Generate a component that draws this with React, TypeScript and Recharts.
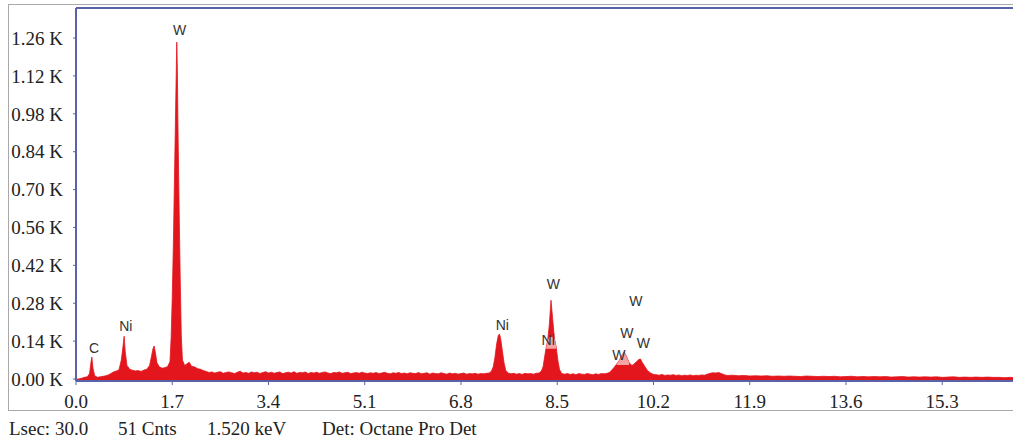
import { ComposedChart, Area, Scatter, XAxis, YAxis, ReferenceLine } from 'recharts';

// channel energies (keV) and counts (K)
const energyKeV = [
  0.0, 0.05, 0.1, 0.15, 0.2, 0.24, 0.26, 0.28, 0.3, 0.33, 0.38, 0.43, 0.48, 0.53, 0.58, 0.63, 0.68, 0.72, 0.76, 0.8, 0.83, 0.85, 0.87, 0.9, 0.95, 1.0,
  1.05, 1.1, 1.15, 1.2, 1.25, 1.3, 1.33, 1.36, 1.38, 1.4, 1.43, 1.47, 1.52, 1.57, 1.62, 1.66, 1.68, 1.7, 1.72, 1.74, 1.76, 1.78, 1.79, 1.8, 1.82, 1.84, 1.86, 1.88, 1.92, 1.96, 2.0, 2.04, 2.1, 2.15, 2.2, 2.25,
  2.3, 2.35, 2.4, 2.45, 2.5, 2.55, 2.6, 2.65, 2.7, 2.75, 2.8, 2.85, 2.9, 2.95, 3.0, 3.05, 3.1, 3.15, 3.2, 3.25,
  3.3, 3.35, 3.4, 3.45, 3.5, 3.55, 3.6, 3.65, 3.7, 3.75, 3.8, 3.85, 3.9, 3.95, 4.0, 4.05, 4.1, 4.15, 4.2, 4.25,
  4.3, 4.35, 4.4, 4.45, 4.5, 4.55, 4.6, 4.65, 4.7, 4.75, 4.8, 4.85, 4.9, 4.95, 5.0, 5.05, 5.1, 5.15, 5.2, 5.25,
  5.3, 5.35, 5.4, 5.45, 5.5, 5.55, 5.6, 5.65, 5.7, 5.75, 5.8, 5.85, 5.9, 5.95, 6.0, 6.05, 6.1, 6.15, 6.2, 6.25,
  6.3, 6.35, 6.4, 6.45, 6.5, 6.55, 6.6, 6.65, 6.7, 6.75, 6.8, 6.85, 6.9, 6.95, 7.0, 7.05, 7.1, 7.15, 7.2, 7.25,
  7.3, 7.34, 7.37, 7.4, 7.43, 7.46, 7.48, 7.5, 7.53, 7.56, 7.59, 7.63, 7.68,
  7.73, 7.78, 7.83, 7.88, 7.93, 7.98, 8.03, 8.08, 8.13, 8.18,
  8.22, 8.25, 8.28, 8.3, 8.33, 8.36, 8.39, 8.42, 8.45, 8.48, 8.51, 8.54, 8.58,
  8.63, 8.68, 8.73, 8.78, 8.83, 8.88, 8.93, 8.98, 9.03, 9.08, 9.13, 9.18, 9.23, 9.28, 9.33, 9.38,
  9.42, 9.46, 9.5, 9.55, 9.6, 9.65, 9.68, 9.72, 9.77, 9.82, 9.86, 9.9, 9.94, 9.97, 10.0, 10.05, 10.1, 10.15, 10.2,
  10.25, 10.3, 10.35, 10.4, 10.45, 10.5, 10.55, 10.6, 10.65, 10.7, 10.75, 10.8, 10.85, 10.9, 10.95, 11.0, 11.05, 11.1,
  11.15, 11.2, 11.25, 11.3, 11.35, 11.4, 11.45,
  11.5, 11.6, 11.7, 11.8, 11.9, 12.0, 12.1, 12.2, 12.3, 12.4, 12.5, 12.6, 12.7, 12.8, 12.9, 13.0, 13.1, 13.2, 13.3, 13.4,
  13.5, 13.6, 13.7, 13.8, 13.9, 14.0, 14.1, 14.2, 14.3, 14.4, 14.5, 14.6, 14.7, 14.8, 14.9, 15.0, 15.1, 15.2, 15.3, 15.4,
  15.5, 15.6, 15.7, 15.8, 15.9, 16.0, 16.1, 16.2, 16.3, 16.4, 16.5, 16.6,
];

const countsK = [
  0, 0, 0.003, 0.006, 0.008, 0.02, 0.055, 0.081, 0.04, 0.012, 0.006, 0.008, 0.01, 0.012, 0.016, 0.022, 0.028, 0.03, 0.034, 0.07, 0.12, 0.158, 0.1, 0.05, 0.036, 0.032,
  0.03, 0.031, 0.028, 0.033, 0.036, 0.05, 0.08, 0.112, 0.122, 0.1, 0.06, 0.045, 0.04, 0.042, 0.046, 0.065, 0.15, 0.3, 0.5, 0.75, 1.0, 1.245, 1.15, 0.95, 0.65, 0.38, 0.16, 0.07, 0.05, 0.056, 0.062, 0.047, 0.044, 0.038, 0.036, 0.031,
  0.028, 0.024, 0.026, 0.022, 0.025, 0.027, 0.021, 0.024, 0.026, 0.023, 0.02, 0.025, 0.029, 0.022, 0.024, 0.021, 0.026, 0.023, 0.025, 0.02,
  0.024, 0.027, 0.022, 0.025, 0.021, 0.024, 0.026, 0.02, 0.023, 0.025, 0.022, 0.027, 0.021, 0.024, 0.023, 0.026, 0.02, 0.024, 0.022, 0.025,
  0.021, 0.024, 0.026, 0.022, 0.02, 0.024, 0.023, 0.026, 0.021, 0.023, 0.025, 0.02, 0.022, 0.024, 0.021, 0.025, 0.022, 0.02, 0.023, 0.021,
  0.024, 0.02, 0.022, 0.025, 0.021, 0.019, 0.023, 0.021, 0.024, 0.02, 0.022, 0.019, 0.023, 0.021, 0.02, 0.024, 0.019, 0.021, 0.023, 0.018,
  0.022, 0.02, 0.019, 0.023, 0.02, 0.018, 0.022, 0.019, 0.021, 0.018, 0.02, 0.022, 0.018, 0.02, 0.019, 0.021, 0.018, 0.02, 0.019, 0.021,
  0.022, 0.03, 0.045, 0.08, 0.13, 0.162, 0.166, 0.15, 0.105, 0.06, 0.032, 0.022, 0.019,
  0.021, 0.018, 0.02, 0.017, 0.021, 0.019, 0.02, 0.018, 0.021, 0.022,
  0.03, 0.045, 0.085, 0.112, 0.14, 0.2, 0.291, 0.22, 0.15, 0.12, 0.07, 0.035, 0.02,
  0.018, 0.02, 0.017, 0.019, 0.016, 0.02, 0.018, 0.017, 0.02, 0.018, 0.016, 0.019, 0.017, 0.02, 0.019, 0.021,
  0.024, 0.032, 0.042, 0.055, 0.07, 0.09, 0.1, 0.085, 0.06, 0.05, 0.056, 0.064, 0.072, 0.074, 0.062, 0.045, 0.03, 0.022, 0.017,
  0.016, 0.014, 0.017, 0.013, 0.015, 0.014, 0.016, 0.013, 0.015, 0.012, 0.014, 0.013, 0.015, 0.012, 0.014, 0.013, 0.015, 0.014,
  0.018, 0.021, 0.023, 0.022, 0.024, 0.02, 0.016,
  0.013, 0.014, 0.012, 0.013, 0.011, 0.012, 0.011, 0.012, 0.01, 0.011, 0.01, 0.011, 0.01, 0.009, 0.011, 0.01, 0.009, 0.01, 0.009, 0.01,
  0.008, 0.009, 0.01, 0.008, 0.009, 0.008, 0.009, 0.008, 0.009, 0.007, 0.008, 0.009, 0.007, 0.008, 0.007, 0.008, 0.007, 0.008, 0.006, 0.007,
  0.008, 0.006, 0.007, 0.006, 0.007, 0.006, 0.007, 0.006, 0.006, 0.005, 0.006, 0.005,
];

// highlighted (lighter) regions of interest inside peaks
const roiEnergy = [8.3, 8.33, 8.36, 8.39, 8.42, 8.45, 8.48, 9.55, 9.6, 9.65, 9.68, 9.72, 9.77];
const roiLow = [0.112, 0.112, 0.112, 0.112, 0.112, 0.112, 0.112, 0.052, 0.052, 0.052, 0.052, 0.052, 0.052];
const roiHigh = [0.112, 0.14, 0.155, 0.155, 0.155, 0.15, 0.12, 0.055, 0.07, 0.09, 0.1, 0.085, 0.06];

// element markers
const markerText = ['W', 'C', 'Ni', 'Ni', 'W', 'Ni', 'W', 'W', 'W', 'W'];
const markerEnergy = [1.83, 0.32, 0.88, 7.53, 8.43, 8.34, 9.89, 9.73, 10.02, 9.59];
const markerK = [1.29, 0.115, 0.196, 0.2, 0.35, 0.144, 0.288, 0.17, 0.134, 0.089];

const xTicks = [0, 1.7, 3.4, 5.1, 6.8, 8.5, 10.2, 11.9, 13.6, 15.3];
const yTicks = [0, 0.14, 0.28, 0.42, 0.56, 0.7, 0.84, 0.98, 1.12, 1.26];

const footer = [
  { text: 'Lsec: 30.0', left: 9 },
  { text: '51 Cnts', left: 118 },
  { text: '1.520 keV', left: 207 },
  { text: 'Det: Octane Pro Det', left: 322 },
];

const data = energyKeV.map((e, i) => {
  const r = roiEnergy.indexOf(e);
  return { e, c: countsK[i], roi: r >= 0 ? [roiLow[r], roiHigh[r]] : null };
});
const markers = markerText.map((t, i) => ({ e: markerEnergy[i], k: markerK[i], text: t }));

const BLUE = '#5a62a8';
const serif = '"Liberation Serif", "Times New Roman", serif';

const MarkerLabel = (props: any) => (
  <text
    x={props.cx}
    y={props.cy}
    textAnchor="middle"
    dominantBaseline="central"
    fontFamily='"Liberation Sans", Arial, sans-serif'
    fontSize={14}
    fill="#333"
  >
    {props.payload.text}
  </text>
);

export default function App() {
  return (
    <div style={{ position: 'absolute', left: 0, top: 0, width: 1013, height: 443, background: '#fff', overflow: 'hidden' }}>
      <div style={{ position: 'absolute', left: 8, top: 4, width: 1020, height: 405, border: '1px solid #a9a9a9' }} />
      <div style={{ position: 'absolute', left: 0, top: 0 }}>
        <ComposedChart width={1013} height={412} data={data} margin={{ top: 8, right: 0, left: 0, bottom: 0 }}>
          <XAxis
            dataKey="e"
            type="number"
            domain={[0, 16.55]}
            allowDataOverflow
            ticks={xTicks}
            tickFormatter={(v: number) => v.toFixed(1)}
            height={31}
            axisLine={{ stroke: BLUE, strokeWidth: 2 }}
            tickLine={{ stroke: BLUE }}
            tickSize={4}
            tickMargin={10}
            tick={{ fill: '#222', fontSize: 19, fontFamily: serif }}
          />
          <YAxis
            type="number"
            domain={[-0.0074, 1.371]}
            allowDataOverflow
            ticks={yTicks}
            tickFormatter={(v: number) => v.toFixed(2) + ' K'}
            width={76}
            axisLine={{ stroke: BLUE, strokeWidth: 2 }}
            tickLine={{ stroke: BLUE }}
            tickSize={3}
            tickMargin={10}
            tick={{ fill: '#222', fontSize: 19, fontFamily: serif }}
          />
          <ReferenceLine y={1.371} stroke={BLUE} strokeWidth={2} />
          <Area
            dataKey="c"
            type="linear"
            stroke="#e3151d"
            strokeWidth={0.8}
            fill="#e3151d"
            fillOpacity={1}
            baseValue="dataMin"
            isAnimationActive={false}
            dot={false}
            activeDot={false}
          />
          <Area
            dataKey="roi"
            type="linear"
            stroke="none"
            fill="#f3a3a3"
            fillOpacity={1}
            isAnimationActive={false}
            dot={false}
            activeDot={false}
          />
          <Scatter data={markers} dataKey="k" shape={MarkerLabel} isAnimationActive={false} />
        </ComposedChart>
      </div>
      {footer.map((f) => (
        <span
          key={f.text}
          style={{ position: 'absolute', left: f.left, top: 418, fontFamily: serif, fontSize: 19, color: '#222', whiteSpace: 'nowrap' }}
        >
          {f.text}
        </span>
      ))}
    </div>
  );
}
